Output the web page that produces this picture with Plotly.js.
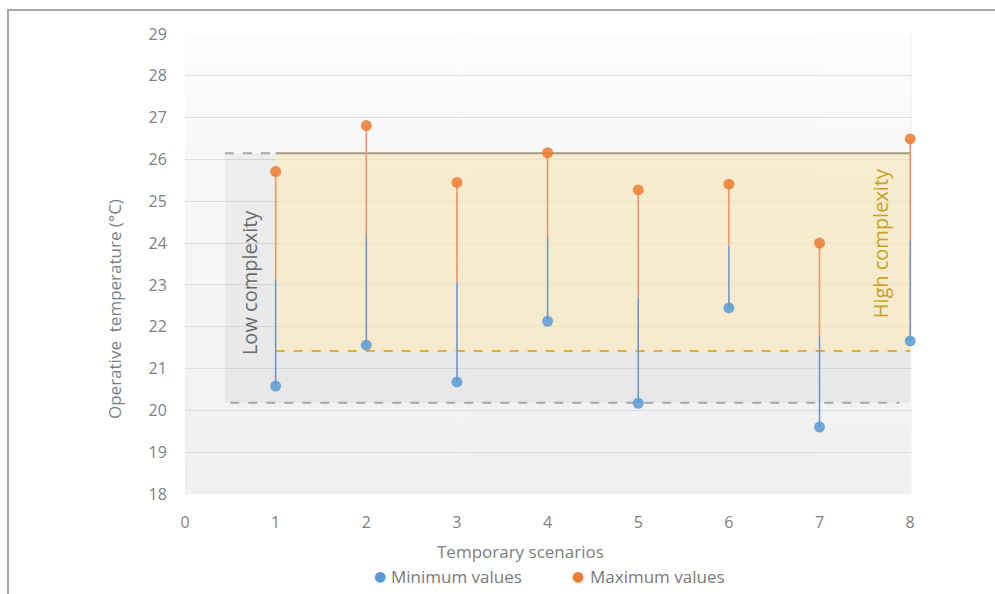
<!DOCTYPE html>
<html>
<head>
<meta charset="utf-8">
<script src="https://cdn.plot.ly/plotly-3.0.1.min.js"></script>
<style>
  html, body { margin: 0; padding: 0; background: #ffffff; overflow: hidden; width: 995px; height: 594px; }
  #frame { position: absolute; left: 7px; top: 9px; width: 990px; height: 590px;
           border-left: 2px solid #a8a8a8; border-top: 2px solid #a8a8a8; }
  #chart { position: absolute; left: 0; top: 0; width: 995px; height: 594px; }
</style>
</head>
<body>
<div id="frame"></div>
<div id="chart"></div>
<script>
// ---- data ----
const scenarios = [1, 2, 3, 4, 5, 6, 7, 8];
const minValues = [20.58, 21.56, 20.68, 22.13, 20.17, 22.45, 19.60, 21.66];
const maxValues = [25.71, 26.81, 25.45, 26.16, 25.27, 25.41, 24.00, 26.49];
const xTicks = [0, 1, 2, 3, 4, 5, 6, 7, 8];
const yTicks = [18, 19, 20, 21, 22, 23, 24, 25, 26, 27, 28, 29];
const xRange = [0, 8.02];
const yRange = [18, 29];
const bgX = [0, 8];
// complexity thresholds
const lowBand = [20.18, 26.15];   // low complexity range
const highBand = [21.42, 26.15];  // high complexity range
const lowBandX = [0.44, 8];
const highBandX = [1, 8];
const seriesNames = ['Minimum values', 'Maximum values'];

const BLUE = '#5b9bd5';
const ORANGE = '#ed7d31';
const FONT = 'Open Sans, Noto Sans, sans-serif';

// background gradient image
function gradientURL() {
  const c = document.createElement('canvas');
  c.width = 4; c.height = 256;
  const g = c.getContext('2d');
  const gr = g.createLinearGradient(0, 0, 0, 256);
  gr.addColorStop(0, '#fdfdfd');
  gr.addColorStop(0.35, '#f7f7f7');
  gr.addColorStop(1, '#f0f0f0');
  g.fillStyle = gr; g.fillRect(0, 0, 4, 256);
  return c.toDataURL();
}

const traces = [];
// stems: upper half orange, lower half blue
scenarios.forEach((s, i) => {
  const mid = (minValues[i] + maxValues[i]) / 2;
  traces.push({
    x: [s, s], y: [maxValues[i], mid], mode: 'lines', type: 'scatter',
    line: {color: '#f0956a', width: 1.6}, showlegend: false, hoverinfo: 'skip', cliponaxis: false
  });
  traces.push({
    x: [s, s], y: [mid, minValues[i]], mode: 'lines', type: 'scatter',
    line: {color: '#6e98cc', width: 1.6}, showlegend: false, hoverinfo: 'skip', cliponaxis: false
  });
});
traces.push({
  x: scenarios, y: minValues, mode: 'markers', type: 'scatter', name: seriesNames[0],
  marker: {color: BLUE, size: 11, opacity: 0.85}, cliponaxis: false, showlegend: false
});
traces.push({
  x: scenarios, y: maxValues, mode: 'markers', type: 'scatter', name: seriesNames[1],
  marker: {color: ORANGE, size: 11, opacity: 0.85}, cliponaxis: false, showlegend: false
});

const shapes = [
  // low complexity band
  {type: 'rect', xref: 'x', yref: 'y', layer: 'between', x0: lowBandX[0], x1: lowBandX[1],
   y0: lowBand[0], y1: lowBand[1], fillcolor: 'rgba(0,0,0,0.04)', line: {width: 0}},
  // high complexity band
  {type: 'rect', xref: 'x', yref: 'y', layer: 'between', x0: highBandX[0], x1: highBandX[1],
   y0: highBand[0], y1: highBand[1], fillcolor: 'rgba(253,236,188,0.62)', line: {width: 0}},
  // low complexity dashed top
  {type: 'line', xref: 'x', yref: 'y', layer: 'between', x0: lowBandX[0], x1: highBandX[0], y0: lowBand[1], y1: lowBand[1],
   line: {color: '#a6a6a6', width: 2, dash: 'dash'}},
  // low complexity dashed bottom
  {type: 'line', xref: 'x', yref: 'y', layer: 'between', x0: 0.5, x1: 7.88, y0: lowBand[0], y1: lowBand[0],
   line: {color: '#a6a6a6', width: 2, dash: 'dash'}},
  // high complexity top solid
  {type: 'line', xref: 'x', yref: 'y', layer: 'between', x0: highBandX[0], x1: highBandX[1], y0: highBand[1], y1: highBand[1],
   line: {color: '#a39d85', width: 2}},
  // high complexity dashed bottom
  {type: 'line', xref: 'x', yref: 'y', layer: 'between', x0: highBandX[0], x1: highBandX[1], y0: highBand[0], y1: highBand[0],
   line: {color: '#e0b03a', width: 2, dash: 'dash'}}
];

// custom legend / titles (paper coords)
const plotL = 185, plotW = 727, plotB = 494, plotH = 460;
const px = v => (v - plotL) / plotW;
const py = v => -(v - plotB) / plotH;
const pyUp = v => (plotB - v) / plotH;
const legendY = py(576);

const layout = {
  width: 995, height: 594,
  margin: {l: 185, r: 83, t: 34, b: 100},
  paper_bgcolor: 'rgba(0,0,0,0)',
  plot_bgcolor: '#f5f5f5',
  font: {family: FONT, color: '#7f7f7f', size: 15},
  showlegend: false,
  xaxis: {
    range: xRange, tickvals: xTicks, ticktext: xTicks.map(String),
    showgrid: false, zeroline: false, showline: false,
    ticks: 'outside', ticklen: 14, tickcolor: 'rgba(0,0,0,0)',
    tickfont: {size: 16, color: '#808080'}, fixedrange: true
  },
  yaxis: {
    range: yRange, tickvals: yTicks, ticktext: yTicks.map(String),
    showgrid: true, gridcolor: '#dedede', gridwidth: 1, zeroline: false, showline: false,
    ticks: 'outside', ticklen: 14, tickcolor: 'rgba(0,0,0,0)',
    tickfont: {size: 16, color: '#808080'},
    fixedrange: true
  },
  shapes: shapes,
  images: [{source: gradientURL(), xref: 'x', yref: 'y', x: bgX[0], y: yRange[1],
            sizex: bgX[1] - bgX[0], sizey: yRange[1] - yRange[0],
            sizing: 'stretch', layer: 'below', xanchor: 'left', yanchor: 'top'}],
  annotations: [
    {text: 'Operative  temperature (°C)', xref: 'paper', yref: 'paper', x: px(114), y: pyUp(309),
     xanchor: 'center', yanchor: 'middle', textangle: -90, showarrow: false,
     font: {size: 17, color: '#808080'}},
    {text: 'Temporary scenarios', xref: 'paper', yref: 'paper', x: px(520), y: py(551),
     xanchor: 'center', yanchor: 'middle', showarrow: false, font: {size: 17, color: '#808080'}},
    {text: 'Low complexity', xref: 'x', yref: 'y', x: 0.72, y: 23.05, textangle: -90,
     showarrow: false, font: {size: 20, color: '#6b6b6b'}},
    {text: 'High complexity', xref: 'x', yref: 'y', x: 7.67, y: 24.0, textangle: -90,
     showarrow: false, font: {size: 20, color: '#c9a21f'}},
    // legend
    {text: '●', xref: 'paper', yref: 'paper', x: px(380), y: legendY, xanchor: 'center', yanchor: 'middle',
     showarrow: false, font: {size: 14, color: BLUE, family: 'DejaVu Sans'}},
    {text: seriesNames[0], xref: 'paper', yref: 'paper', x: px(389), y: legendY, xanchor: 'left', yanchor: 'middle',
     showarrow: false, font: {size: 17, color: '#7a7a7a'}},
    {text: '●', xref: 'paper', yref: 'paper', x: px(578), y: legendY, xanchor: 'center', yanchor: 'middle',
     showarrow: false, font: {size: 14, color: ORANGE, family: 'DejaVu Sans'}},
    {text: seriesNames[1], xref: 'paper', yref: 'paper', x: px(588), y: legendY, xanchor: 'left', yanchor: 'middle',
     showarrow: false, font: {size: 17, color: '#7a7a7a'}}
  ]
};

Plotly.newPlot('chart', traces, layout, {displayModeBar: false, staticPlot: true});
</script>
</body>
</html>
